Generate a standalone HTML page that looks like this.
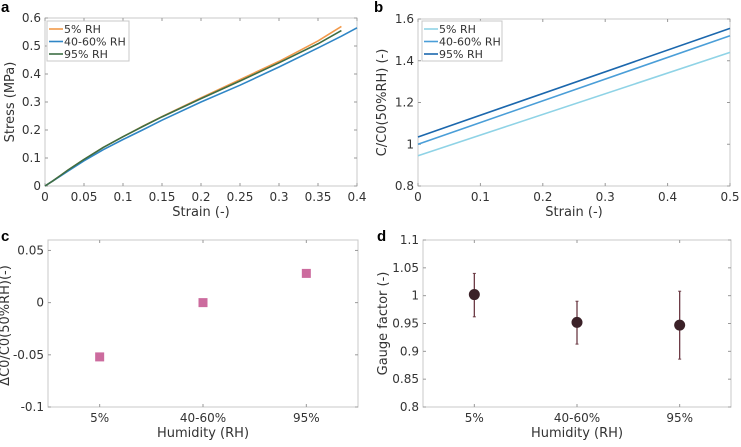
<!DOCTYPE html>
<html><head><meta charset="utf-8"><style>
body{margin:0;background:#fff;}
svg text{font-family:"DejaVu Sans","Liberation Sans",sans-serif;fill:#333;}
.pl{font-family:"Liberation Sans",sans-serif;font-weight:bold;fill:#000;}
</style></head><body>
<svg id="s" width="741" height="442" xmlns="http://www.w3.org/2000/svg"></svg>
<script>
// Panel a data
const aStrain = [0,0.01,0.02,0.03,0.05,0.075,0.1,0.125,0.15,0.2,0.25,0.3,0.35,0.38,0.4];
const a5 = [0,0.018,0.038,0.058,0.095,0.138,0.176,0.213,0.248,0.315,0.38,0.445,0.518,0.57,null];
const a40 = [0,0.018,0.036,0.054,0.09,0.13,0.166,0.2,0.235,0.3,0.36,0.425,0.493,0.535,0.565];
const a95 = [0,0.018,0.038,0.058,0.095,0.138,0.176,0.212,0.247,0.312,0.375,0.44,0.508,0.555,null];
const aXTicks = [0,0.05,0.1,0.15,0.2,0.25,0.3,0.35,0.4];
const aYTicks = [0,0.1,0.2,0.3,0.4,0.5,0.6];
// Panel b data
const bStrain = [0,0.5];
const b5 = [0.945,1.44];
const b40 = [1.0,1.52];
const b95 = [1.035,1.555];
const bXTicks = [0,0.1,0.2,0.3,0.4,0.5];
const bYTicks = [0.8,1,1.2,1.4,1.6];
// Panel c data
const humidity = ["5%","40-60%","95%"];
const cValues = [-0.052,0,0.028];
const cYTicks = [-0.1,-0.05,0,0.05];
// Panel d data
const dValues = [1.002,0.952,0.947];
const dLow = [0.962,0.913,0.886];
const dHigh = [1.04,0.99,1.008];
const dYTicks = [0.8,0.85,0.9,0.95,1,1.05,1.1];

const S = document.getElementById('s');
const NS = 'http://www.w3.org/2000/svg';
function mk(tag, attrs, parent, txt){
  const e = document.createElementNS(NS, tag);
  for (const k in attrs) e.setAttribute(k, attrs[k]);
  if (txt !== undefined) e.textContent = txt;
  (parent||S).appendChild(e); return e;
}
function scale(d0,d1,r0,r1){return v=>r0+(v-d0)/(d1-d0)*(r1-r0);}
function frame(g,x0,y0,x1,y1){
  const r = mk('rect',{x:x0,y:y0,width:x1-x0,height:y1-y0,fill:'none',stroke:'#c8c8c8','stroke-width':1},g);
  
  
}
function yTicks(g,ticks,ys,x0,x1){
  ticks.forEach(t=>{
    const y=ys(t);
    mk('line',{x1:x0,y1:y,x2:x0+3,y2:y,stroke:'#999'},g);
    mk('line',{x1:x1,y1:y,x2:x1-3,y2:y,stroke:'#999'},g);
    const tx=mk('text',{x:x0-4,y:y+4,'font-size':12,'text-anchor':'end'},g,String(t));
    
    
  });
}
function xTicks(g,ticks,labels,xs,y0,y1){
  ticks.forEach((t,i)=>{
    const x=xs(t);
    mk('line',{x1:x,y1:y1,x2:x,y2:y1-3,stroke:'#999'},g);
    mk('line',{x1:x,y1:y0,x2:x,y2:y0+3,stroke:'#999'},g);
    const tx=mk('text',{x:x,y:y1+15,'font-size':12,'text-anchor':'middle'},g,labels[i]);
    
    
  });
}
function line(g,xsArr,ysArr,xs,ys,col,name){
  const pts=[]; xsArr.forEach((v,i)=>{ if(ysArr[i]!==null && ysArr[i]!==undefined) pts.push(xs(v)+','+ys(ysArr[i])); });
  const p=mk('polyline',{points:pts.join(' '),fill:'none',stroke:col,'stroke-width':1.6,'stroke-linejoin':'round'},g);
  
  
}
function legend(g,x,y,w,items){
  const r=mk('rect',{x:x,y:y,width:w,height:40,fill:'#fff',stroke:'#c8c8c8'},g);
  
  
  items.forEach((it,i)=>{
    const yy=y+8+i*12.5;
    mk('line',{x1:x+2,y1:yy,x2:x+16,y2:yy,stroke:it[1],'stroke-width':1.6},g);
    const t=mk('text',{x:x+17,y:yy+4,'font-size':11},g,it[0]);
    
    
  });
}
function panelLabel(x,y,t){
  const e=mk('text',{x:x,y:y,'font-size':15,class:'pl'},S,t);
  
  
}
function axisTitle(g,x,y,t,rot){
  const e=mk('text',{x:x,y:y,'font-size':13,'text-anchor':'middle',transform:rot?`rotate(-90 ${x} ${y})`:''},g,t);
  
  
  return e;
}

// Panel a
{
  const g=mk('g',{});  
  const X0=45,X1=357,Y0=18,Y1=186;
  const xs=scale(0,0.4,X0,X1), ys=scale(0,0.6,Y1,Y0);
  frame(g,X0,Y0,X1,Y1);
  yTicks(g,aYTicks,ys,X0,X1);
  xTicks(g,aXTicks,aXTicks.map(String),xs,Y0,Y1);
  line(g,aStrain,a5,xs,ys,'#f2994a','line-5rh');
  line(g,aStrain,a40,xs,ys,'#2f86c6','line-40-60rh');
  line(g,aStrain,a95,xs,ys,'#3d6e45','line-95rh');
  legend(g,47,21,82,[['5% RH','#f2994a'],['40-60% RH','#2f86c6'],['95% RH','#3d6e45']]);
  axisTitle(g,X0+(X1-X0)/2,216,'Strain (-)',false);
  axisTitle(g,14,(Y0+Y1)/2,'Stress (MPa)',true);
}
panelLabel(1,12,'a');
// Panel b
{
  const g=mk('g',{});  
  const X0=418,X1=730,Y0=19,Y1=186;
  const xs=scale(0,0.5,X0,X1), ys=scale(0.8,1.6,Y1,Y0);
  frame(g,X0,Y0,X1,Y1);
  yTicks(g,bYTicks,ys,X0,X1);
  xTicks(g,bXTicks,bXTicks.map(String),xs,Y0,Y1);
  line(g,bStrain,b5,xs,ys,'#8fd3e6','line-5rh');
  line(g,bStrain,b40,xs,ys,'#4a9ed8','line-40-60rh');
  line(g,bStrain,b95,xs,ys,'#1b67ad','line-95rh');
  legend(g,422,21,80,[['5% RH','#8fd3e6'],['40-60% RH','#4a9ed8'],['95% RH','#1b67ad']]);
  axisTitle(g,X0+(X1-X0)/2,216,'Strain (-)',false);
  axisTitle(g,386,(Y0+Y1)/2,'C/C0(50%RH) (-)',true);
}
panelLabel(374,12,'b');
// Panel c
{
  const g=mk('g',{});  
  const X0=48,X1=358,Y1=407,Y0=240;
  const ys=scale(-0.1,0.06,Y1,Y0);
  const xs=i=>X0+(X1-X0)*(i+0.5)/3;
  frame(g,X0,Y0,X1,Y1);
  yTicks(g,cYTicks,ys,X0,X1);
  xTicks(g,[0,1,2],humidity,xs,Y0,Y1);
  cValues.forEach((v,i)=>{
    const r=mk('rect',{x:xs(i)-4.5,y:ys(v)-4.5,width:9,height:9,fill:'#cc6b9e'},g);
    
    
  });
  axisTitle(g,X0+(X1-X0)/2,437,'Humidity (RH)',false);
  axisTitle(g,9,(Y0+Y1)/2+2,'ΔC0/C0(50%RH)(-)',true);
}
panelLabel(1,241,'c');
// Panel d
{
  const g=mk('g',{});  
  const X0=423,X1=731,Y1=407,Y0=240;
  const ys=scale(0.8,1.1,Y1,Y0);
  const xs=i=>X0+(X1-X0)*(i+0.5)/3;
  frame(g,X0,Y0,X1,Y1);
  yTicks(g,dYTicks,ys,X0,X1);
  xTicks(g,[0,1,2],humidity,xs,Y0,Y1);
  dValues.forEach((v,i)=>{
    const x=xs(i);
    const e=mk('line',{x1:x,y1:ys(dLow[i]),x2:x,y2:ys(dHigh[i]),stroke:'#6b3a44','stroke-width':1.3},g);
    
    
    mk('line',{x1:x-1.5,y1:ys(dLow[i]),x2:x+1.5,y2:ys(dLow[i]),stroke:'#6b3a44'},g);
    mk('line',{x1:x-1.5,y1:ys(dHigh[i]),x2:x+1.5,y2:ys(dHigh[i]),stroke:'#6b3a44'},g);
    const c=mk('circle',{cx:x,cy:ys(v),r:5.5,fill:'#3b2128'},g);
    
    
  });
  axisTitle(g,X0+(X1-X0)/2,437,'Humidity (RH)',false);
  axisTitle(g,387,(Y0+Y1)/2,'Gauge factor (-)',true);
}
panelLabel(377,241,'d');
</script>
</body></html>
